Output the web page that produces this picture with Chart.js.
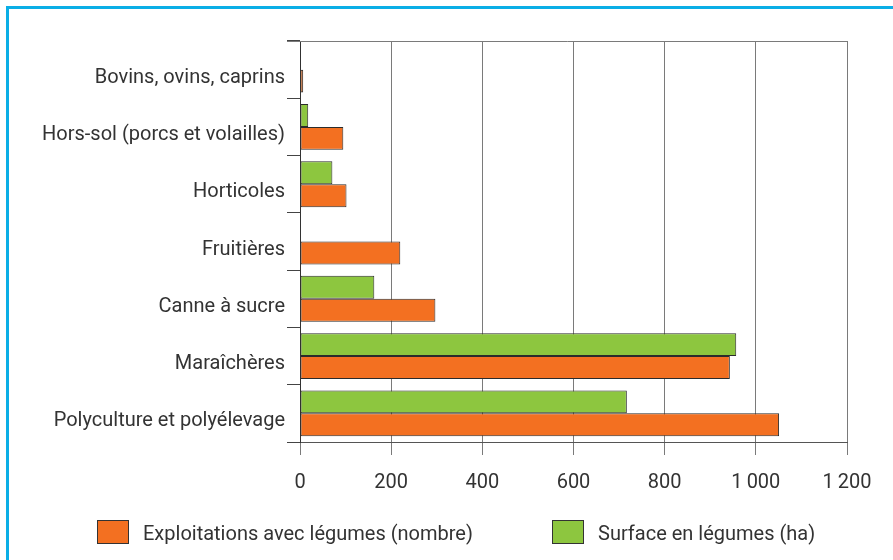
<!DOCTYPE html>
<html>
<head>
<meta charset="utf-8">
<script src="https://cdn.jsdelivr.net/npm/chart.js@4.4.1/dist/chart.umd.min.js"></script>
<style>
  html, body { margin: 0; padding: 0; background: #fff; }
  body { width: 893px; height: 560px; position: relative; overflow: hidden; font-family: Roboto, "Liberation Sans", sans-serif; }
  #frame { position: absolute; left: 6px; top: 6px; width: 1000px; height: 700px; border-left: 3px solid #0AAEE6; border-top: 3px solid #0AAEE6; }
  #wrap { position: absolute; left: 0; top: 0; width: 893px; height: 560px; }
  .lg { position: absolute; font-size: 20px; color: #333; line-height: 24px; }
  .box { position: absolute; width: 30px; height: 22px; border: 1px solid #333; }
</style>
</head>
<body>
<div id="frame"></div>
<div id="wrap"><canvas id="c" width="893" height="560"></canvas></div>
<div class="box" style="left:97px; top:520px; background:#F37021;"></div>
<div class="lg" style="left:143px; top:521px;">Exploitations avec légumes (nombre)</div>
<div class="box" style="left:552px; top:520px; background:#8DC63F;"></div>
<div class="lg" style="left:598px; top:521px;">Surface en légumes (ha)</div>
<script>
const categories = [
  "Bovins, ovins, caprins",
  "Hors-sol (porcs et volailles)",
  "Horticoles",
  "Fruitières",
  "Canne à sucre",
  "Maraîchères",
  "Polyculture et polyélevage"
];
const surfaceHa = [2, 18, 71, 0, 163, 957, 717];
const exploitations = [7, 95, 102, 220, 297, 943, 1051];
const xTicks = [0, 200, 400, 600, 800, 1000, 1200];

const topLine = {
  id: 'topLine',
  afterDraw(chart) {
    const a = chart.chartArea, ctx = chart.ctx;
    ctx.save();
    ctx.strokeStyle = '#7a7a7a';
    ctx.lineWidth = 1;
    ctx.beginPath();
    ctx.moveTo(a.left - 13, Math.round(a.top) + 0.5);
    ctx.lineTo(a.right + 0.5, Math.round(a.top) + 0.5);
    ctx.stroke();
    ctx.restore();
  }
};

new Chart(document.getElementById('c'), {
  type: 'bar',
  data: {
    labels: categories,
    datasets: [
      { label: 'Surface en légumes (ha)', data: surfaceHa, backgroundColor: '#8DC63F', borderColor: '#2b2b2b', borderWidth: 1, borderSkipped: false, categoryPercentage: 0.8, barPercentage: 1.0 },
      { label: 'Exploitations avec légumes (nombre)', data: exploitations, backgroundColor: '#F37021', borderColor: '#2b2b2b', borderWidth: 1, borderSkipped: false, categoryPercentage: 0.8, barPercentage: 1.0 }
    ]
  },
  options: {
    indexAxis: 'y',
    responsive: false,
    animation: false,
    layout: { padding: { top: 41, right: 46, left: 0, bottom: 0 } },
    plugins: { legend: { display: false }, tooltip: { enabled: false } },
    scales: {
      x: {
        min: 0, max: 1200,
        afterBuildTicks(scale) { scale.ticks = xTicks.map(v => ({ value: v })); },
        afterFit(scale) { scale.height = 118; },
        grid: { color: '#7a7a7a', lineWidth: 1, tickLength: 13, drawOnChartArea: true },
        border: { color: '#555' },
        ticks: {
          padding: 16,
          color: '#333',
          font: { family: 'Roboto', size: 20 },
          callback: (v) => String(v).replace(/\B(?=(\d{3})+(?!\d))/g, '\u2009')
        }
      },
      y: {
        afterFit(scale) { scale.width = 300; },
        offset: true,
        grid: { offset: true, drawOnChartArea: false, tickLength: 13, color: '#444' },
        border: { color: '#333' },
        ticks: { padding: 2, labelOffset: 8, color: '#333', font: { family: 'Roboto', size: 20 } }
      }
    }
  },
  plugins: [topLine]
});
</script>
</body>
</html>
